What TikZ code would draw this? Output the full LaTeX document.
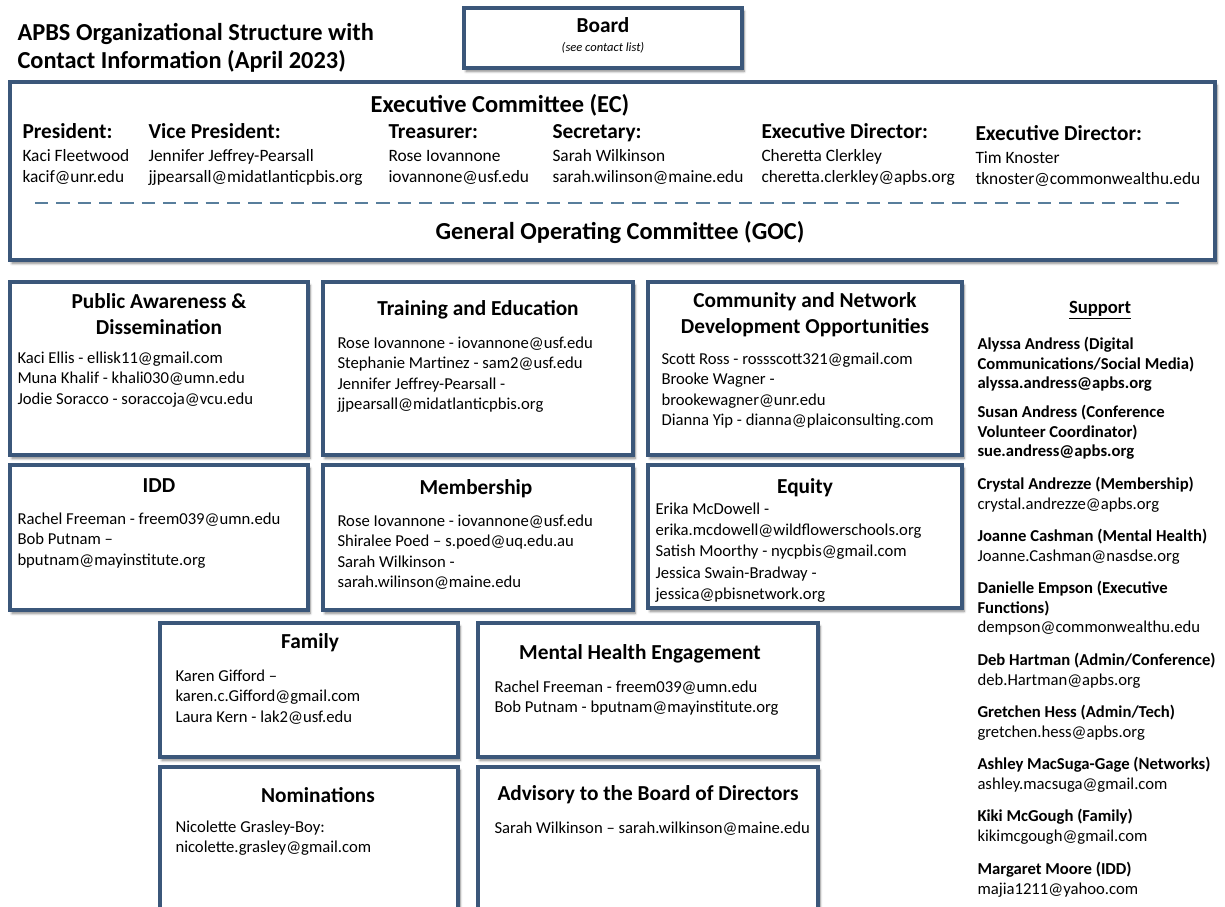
\documentclass[tikz,border=0pt]{standalone}
\usepackage{fontspec}
\setmainfont{Carlito}
\usetikzlibrary{positioning,fit,shadows.blur}

\definecolor{boxblue}{RGB}{59,87,122}
\definecolor{dashblue}{RGB}{88,126,156}

\tikzset{every picture/.style={line width=0.75pt}}
\tikzset{
  cbox/.style={draw=boxblue, line width=2.4pt, fill=white, inner sep=0pt,
    blur shadow={shadow xshift=1.5pt, shadow yshift=-2.5pt, shadow blur steps=6, shadow opacity=50}},
  title/.style={anchor=north west, inner sep=0pt, align=left, font=\fontsize{18.3}{21}\selectfont\bfseries},
  bighead/.style={inner sep=0pt, font=\fontsize{18.3}{21}\selectfont\bfseries},
  head/.style={inner sep=0pt, align=center, font=\fontsize{16}{19.5}\selectfont\bfseries},
  note/.style={inner sep=0pt, font=\fontsize{9.4}{12}\selectfont\itshape},
  role/.style={anchor=base west, inner sep=0pt, font=\fontsize{16}{18}\selectfont\bfseries},
  ecbody/.style={anchor=north west, inner sep=0pt, align=left, font=\fontsize{13}{15.75}\selectfont},
  body/.style={anchor=north west, inner sep=0pt, align=left, font=\fontsize{12.5}{15.4}\selectfont},
  suphead/.style={inner sep=0pt, font=\fontsize{14}{16}\selectfont\bfseries},
  supp/.style={anchor=north west, inner sep=0pt, align=left, font=\fontsize{12.5}{14.4}\selectfont},
  dashline/.style={draw=dashblue, line width=1.6pt, dash pattern=on 10pt off 6pt}
}

\begin{document}
\begin{tikzpicture}[x=0.75pt,y=0.75pt,yscale=-1,xscale=1]
\useasboundingbox (0,0) rectangle (1225,907);
\clip (0,0) rectangle (1225,907);

% Title
\node [title] (ttl) at (17,23) {APBS Organizational Structure with\\Contact Information (April 2023)};

%Shape: Board
\node [cbox, fit={(464,8) (742,68)}] (board) {};
\node [head] (boardT) at (603,25) {Board};
\node [note] (boardN) at (603,48) {(see contact list)};

%Shape: Executive / General Operating Committee
\node [cbox, fit={(10,82) (1215,260)}] (ec) {};
\node [bighead] (ecT) at (500,105) {Executive Committee (EC)};
% Text Node
\node [role] (pres) at (22,138) {President:};
\node [ecbody] (presB) at (22,149) {Kaci Fleetwood\\kacif@unr.edu};
% Text Node
\node [role] (vpres) at (148,138) {Vice President:};
\node [ecbody] (vpresB) at (148,149) {Jennifer Jeffrey-Pearsall\\jjpearsall@midatlanticpbis.org};
% Text Node
\node [role] (treas) at (388,138) {Treasurer:};
\node [ecbody] (treasB) at (388,150) {Rose Iovannone\\iovannone@usf.edu};
% Text Node
\node [role] (secr) at (552,138) {Secretary:};
\node [ecbody] (secrB) at (552,149) {Sarah Wilkinson\\sarah.wilinson@maine.edu};
% Text Node
\node [role] (edir) at (761,138) {Executive Director:};
\node [ecbody] (edirB) at (761,149) {Cheretta Clerkley\\cheretta.clerkley@apbs.org};
% Text Node
\node [role] (edirb) at (975,140) {Executive Director:};
\node [ecbody] (edirbB) at (975,151) {Tim Knoster\\tknoster@commonwealthu.edu};
%Straight Lines
\draw [dashline] (35,203) -- (1180,203);
\node [bighead] (gocT) at (620,233) {General Operating Committee (GOC)};

%Shape: Public Awareness
\node [cbox, fit={(10,282) (308,455)}] (pad) {};
\node [head] (padT) at (159,314) {Public Awareness \&\\Dissemination};
\node [body] (padB) at (17,351) {Kaci Ellis - ellisk11@gmail.com\\Muna Khalif - khali030@umn.edu\\Jodie Soracco - soraccoja@vcu.edu};

%Shape: Training and Education
\node [cbox, fit={(323,282) (633,455)}] (tre) {};
\node [head] (treT) at (478,310) {Training and Education};
\node [body] (treB) at (337,336) {Rose Iovannone - iovannone@usf.edu\\Stephanie Martinez - sam2@usf.edu\\Jennifer Jeffrey-Pearsall -\\jjpearsall@midatlanticpbis.org};

%Shape: Community and Network
\node [cbox, fit={(648,282) (962,455)}] (cnd) {};
\node [head] (cndT) at (805,315) {Community and Network\\Development Opportunities};
\node [body] (cndB) at (661,352) {Scott Ross - rossscott321@gmail.com\\Brooke Wagner -\\brookewagner@unr.edu\\Dianna Yip - dianna@plaiconsulting.com};

%Shape: IDD
\node [cbox, fit={(10,465) (308,610)}] (idd) {};
\node [head] (iddT) at (159,486) {IDD};
\node [body] (iddB) at (17,512) {Rachel Freeman - freem039@umn.edu\\Bob Putnam --\\bputnam@mayinstitute.org};

%Shape: Membership
\node [cbox, fit={(323,465) (633,610)}] (mem) {};
\node [head] (memT) at (476,489) {Membership};
\node [body] (memB) at (337,514) {Rose Iovannone - iovannone@usf.edu\\Shiralee Poed -- s.poed@uq.edu.au\\Sarah Wilkinson -\\sarah.wilinson@maine.edu};

%Shape: Equity
\node [cbox, fit={(648,465) (962,608)}] (eqy) {};
\node [head] (eqyT) at (805,488) {Equity};
\node [body, font=\fontsize{12.5}{16}\selectfont] (eqyB) at (655,502) {Erika McDowell -\\erika.mcdowell@wildflowerschools.org\\Satish Moorthy - nycpbis@gmail.com\\Jessica Swain-Bradway -\\jessica@pbisnetwork.org};

%Shape: Family
\node [cbox, fit={(160,623) (458,757)}] (fam) {};
\node [head] (famT) at (310,643) {Family};
\node [body] (famB) at (175,669) {Karen Gifford --\\karen.c.Gifford@gmail.com\\Laura Kern - lak2@usf.edu};

%Shape: Mental Health Engagement
\node [cbox, fit={(478,623) (818,757)}] (mhe) {};
\node [head] (mheT) at (640,654) {Mental Health Engagement};
\node [body] (mheB) at (494,680) {Rachel Freeman - freem039@umn.edu\\Bob Putnam - bputnam@mayinstitute.org};

%Shape: Nominations
\node [cbox, fit={(160,767) (458,930)}] (nom) {};
\node [head] (nomT) at (318,795) {Nominations};
\node [body] (nomB) at (175,820) {Nicolette Grasley-Boy:\\nicolette.grasley@gmail.com};

%Shape: Advisory
\node [cbox, fit={(478,767) (818,930)}] (adv) {};
\node [head] (advT) at (648,795) {Advisory to the Board of Directors};
\node [body] (advB) at (494,821) {Sarah Wilkinson -- sarah.wilkinson@maine.edu};

% Support list
\node [suphead] (sup) at (1100,310) {\underline{Support}};
\node [supp] (supA) at (977,337) {\textbf{Alyssa Andress (Digital}\\\textbf{Communications/Social Media)}\\\textbf{alyssa.andress@apbs.org}};
\node [supp] (supB) at (977,405) {\textbf{Susan Andress (Conference}\\\textbf{Volunteer Coordinator)}\\\textbf{sue.andress@apbs.org}};
\node [supp] (supC) at (977,477) {\textbf{Crystal Andrezze (Membership)}\\crystal.andrezze@apbs.org};
\node [supp] (supD) at (977,529) {\textbf{Joanne Cashman (Mental Health)}\\Joanne.Cashman@nasdse.org};
\node [supp] (supE) at (977,581) {\textbf{Danielle Empson (Executive}\\\textbf{Functions)}\\dempson@commonwealthu.edu};
\node [supp] (supF) at (977,653) {\textbf{Deb Hartman (Admin/Conference)}\\deb.Hartman@apbs.org};
\node [supp] (supG) at (977,705) {\textbf{Gretchen Hess (Admin/Tech)}\\gretchen.hess@apbs.org};
\node [supp] (supH) at (977,757) {\textbf{Ashley MacSuga-Gage (Networks)}\\ashley.macsuga@gmail.com};
\node [supp] (supI) at (977,809) {\textbf{Kiki McGough (Family)}\\kikimcgough@gmail.com};
\node [supp] (supJ) at (977,862) {\textbf{Margaret Moore (IDD)}\\majia1211@yahoo.com};
\end{tikzpicture}
\end{document}
